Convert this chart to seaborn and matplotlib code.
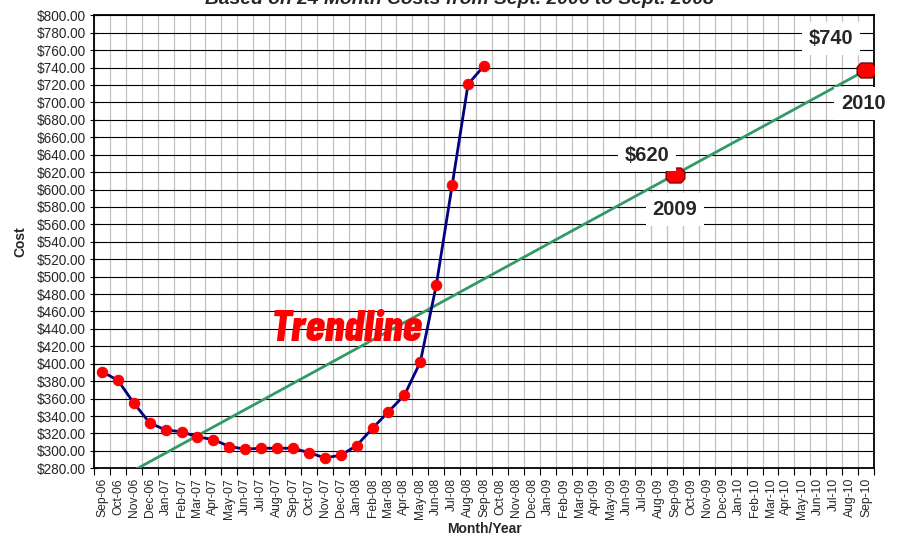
import numpy as np
import pandas as pd
import seaborn as sns
import matplotlib.pyplot as plt
from matplotlib.path import Path
from matplotlib.ticker import FixedLocator, MultipleLocator, FuncFormatter

# month labels Sep-06 .. Sep-10
months = [
    "Sep-06", "Oct-06", "Nov-06", "Dec-06", "Jan-07", "Feb-07", "Mar-07", "Apr-07",
    "May-07", "Jun-07", "Jul-07", "Aug-07", "Sep-07", "Oct-07", "Nov-07", "Dec-07",
    "Jan-08", "Feb-08", "Mar-08", "Apr-08", "May-08", "Jun-08", "Jul-08", "Aug-08",
    "Sep-08", "Oct-08", "Nov-08", "Dec-08", "Jan-09", "Feb-09", "Mar-09", "Apr-09",
    "May-09", "Jun-09", "Jul-09", "Aug-09", "Sep-09", "Oct-09", "Nov-09", "Dec-09",
    "Jan-10", "Feb-10", "Mar-10", "Apr-10", "May-10", "Jun-10", "Jul-10", "Aug-10",
    "Sep-10",
]
# monthly cost, Sep-06 .. Sep-08
costs = [391, 381, 355, 332, 324, 322, 316, 313, 305, 302, 303, 303, 303,
         298, 292, 295, 306, 326, 345, 364, 402, 490, 605, 721, 742]

forecast_months = ["Sep-09", "Sep-10"]
forecast_costs = ["$620", "$740"]
forecast_years = ["2009", "2010"]

title = "Based on 24 Month Costs from Sept. 2006 to Sept. 2008"

sns.set_style("white")
plt.rcParams["font.family"] = ["Liberation Sans", "DejaVu Sans"]

df = pd.DataFrame({"idx": np.arange(len(costs)), "cost": costs})

# linear trend of the 24 months, carried out to Sep-10
all_idx = np.arange(len(months))
slope, intercept = np.polyfit(df["idx"], df["cost"], 1)
trend_df = pd.DataFrame({"idx": all_idx, "trend": slope * all_idx + intercept})

fc_idx = [months.index(m) for m in forecast_months]
fc_df = pd.DataFrame({"idx": fc_idx, "trend": slope * np.array(fc_idx) + intercept})

fig = plt.figure(figsize=(9, 5.39), dpi=100)
ax = fig.add_axes([94 / 900, 1 - 468.3 / 539, 780 / 900, 453 / 539])

sns.lineplot(data=trend_df, x="idx", y="trend", color="#339966", lw=2,
             ax=ax, zorder=3)
sns.lineplot(data=df, x="idx", y="cost", color="#000080", lw=2,
             marker="o", markersize=7.5, markerfacecolor="red",
             markeredgecolor="red", ax=ax, zorder=4)

octagon = Path([(1, 0.35), (0.6, 0.8), (-0.6, 0.8), (-1, 0.35),
                (-1, -0.35), (-0.6, -0.8), (0.6, -0.8), (1, -0.35), (1, 0.35)],
               closed=True)
sns.scatterplot(data=fc_df, x="idx", y="trend", marker=octagon, s=185,
                color="red", edgecolor="#600000", linewidth=0.8, ax=ax,
                zorder=5, legend=False)

label_kw = dict(textcoords="offset points", fontsize=14.5, fontweight="bold",
                ha="center", va="center", zorder=6,
                bbox=dict(facecolor="white", edgecolor="none", pad=5))
cost_offsets = [(-20, 14), (-25, 23)]
year_offsets = [(0, -25), (-2, -24)]
for i, row in fc_df.iterrows():
    ax.annotate(forecast_costs[i], (row["idx"], row["trend"]),
                xytext=cost_offsets[i], **label_kw)
    ax.annotate(forecast_years[i], (row["idx"], row["trend"]),
                xytext=year_offsets[i], annotation_clip=False, **label_kw)

ax.text(15.4, 440, "Trendline", color="red", fontsize=32, fontweight=800,
        style="italic", ha="center", va="center", zorder=6,
        family=["Barlow Condensed", "DejaVu Sans"])

ax.set_xlim(-0.5, len(months) - 0.5)
ax.set_ylim(280, 800)

ax.set_xticks(all_idx, months, rotation=90, fontsize=8.7)
ax.xaxis.set_minor_locator(FixedLocator(np.arange(len(months) + 1) - 0.5))
ax.tick_params(axis="x", which="major", length=0, pad=7)
ax.tick_params(axis="x", which="minor", direction="out", length=5,
               width=0.8, color="black", bottom=True)

ax.yaxis.set_major_locator(MultipleLocator(20))
ax.yaxis.set_major_formatter(FuncFormatter(lambda v, p: f"${v:,.2f}"))
ax.tick_params(axis="y", direction="inout", length=6, width=0.8,
               color="black", left=True, labelsize=9.8, pad=3)

ax.grid(False)
ax.grid(axis="x", which="minor", color="#c0c0c0", lw=0.9)
ax.grid(axis="y", which="major", color="black", lw=0.8)
ax.set_axisbelow(True)

for sp in ax.spines.values():
    sp.set_color("black")
    sp.set_linewidth(1.3)

ax.set_xlabel("Month/Year", fontsize=10, fontweight="bold")
ax.xaxis.set_label_coords(0.5, -0.118)
ax.set_ylabel("Cost", fontsize=10, fontweight="bold")
ax.yaxis.set_label_coords(-0.086, 0.5)

# title sits above the canvas and is cut off, as in the original
fig.text(0.511, 1 - 4 / 539, title, fontsize=13.9, fontweight="bold",
         style="italic", ha="center", va="baseline")

fig.savefig("out.png", dpi=100)
